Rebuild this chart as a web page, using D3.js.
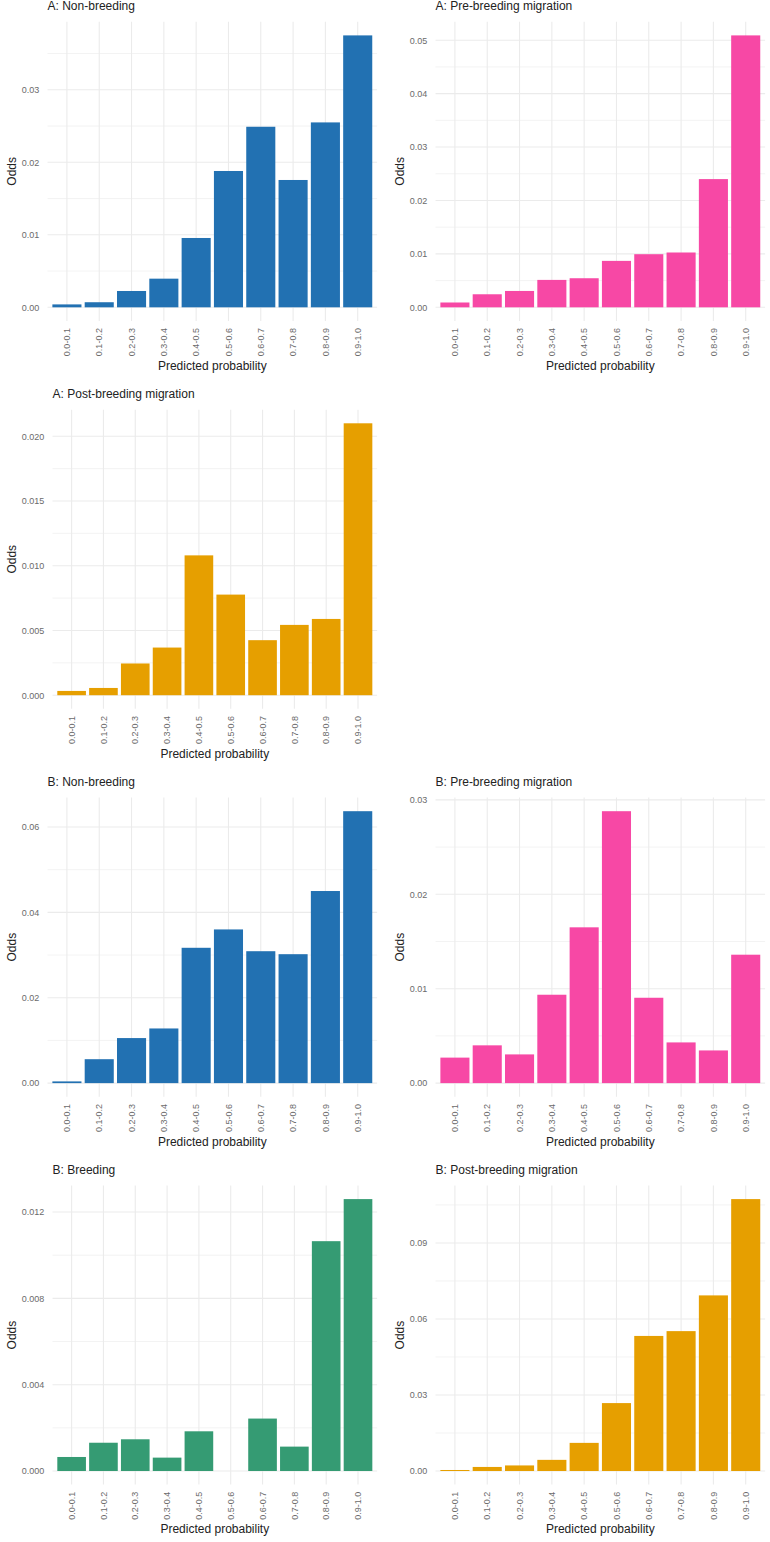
<!DOCTYPE html>
<html>
<head>
<meta charset="utf-8">
<script src="https://cdn.jsdelivr.net/npm/d3@7"></script>
<style>
  body { margin: 0; background: #fff; }
  text { font-family: "Liberation Sans", Arial, sans-serif; }
</style>
</head>
<body>
<script>
// predicted probability bins (x axis)
const categories = ['0.0-0.1', '0.1-0.2', '0.2-0.3', '0.3-0.4', '0.4-0.5',
                    '0.5-0.6', '0.6-0.7', '0.7-0.8', '0.8-0.9', '0.9-1.0']

// odds per bin
const aNonBreeding  = [0.0004, 0.0007, 0.00225, 0.00395, 0.00956, 0.0188, 0.0249, 0.01756, 0.0255, 0.0375]
const aPreBreeding  = [0.0009, 0.00244, 0.00306, 0.00513, 0.00544, 0.00869, 0.00994, 0.01026, 0.024, 0.0509]
const aPostBreeding = [0.00033, 0.00056, 0.00245, 0.00368, 0.0108, 0.00777, 0.00425, 0.00543, 0.00589, 0.021]
const bNonBreeding  = [0.0004, 0.0056, 0.01055, 0.0128, 0.0317, 0.036, 0.0309, 0.0302, 0.045, 0.0637]
const bPreBreeding  = [0.0027, 0.004, 0.00304, 0.00936, 0.0165, 0.0288, 0.00904, 0.00431, 0.00346, 0.0136]
const bBreeding     = [0.00065, 0.00131, 0.00147, 0.00062, 0.00184, 0, 0.00243, 0.00113, 0.01065, 0.0126]
const bPostBreeding = [0.0004, 0.0016, 0.0022, 0.0044, 0.0111, 0.0268, 0.0533, 0.0552, 0.0693, 0.1073]

const panelTitles = ['A: Non-breeding', 'A: Pre-breeding migration', 'A: Post-breeding migration',
                     'B: Non-breeding', 'B: Pre-breeding migration', 'B: Breeding', 'B: Post-breeding migration']
const panelValues = [aNonBreeding, aPreBreeding, aPostBreeding, bNonBreeding, bPreBreeding, bBreeding, bPostBreeding]
// y tick spacing per panel
const tickSteps = [0.01, 0.01, 0.005, 0.02, 0.01, 0.004, 0.03]

const colours = {
    non: '#2271B2',
    pre: '#F748A5',
    post: '#E69F00',
    breed: '#359B73'
}
const panelColours = [colours.non, colours.pre, colours.post, colours.non, colours.pre, colours.breed, colours.post]
const panelCells = [[0, 0], [0, 1], [1, 0], [2, 0], [2, 1], [3, 0], [3, 1]]   // [row, col]

const m = {
    width: 770,
    height: 1542,
    colX: [0, 388],
    rowStep: 387.9,
    plotTop: 21.8,
    plotH: 299.1,
    plotRight: 377.1,
    labelStart: 21.7,
    labelGap: 8.3
}

const svg = d3.select('body').append('svg')
    .attr('width', m.width)
    .attr('height', m.height)

const measure = svg.append('text').attr('font-size', 9).attr('opacity', 0)
function textWidth(s) {
    measure.text(s)
    return measure.node().getComputedTextLength()
}

panelTitles.forEach(function(title, i) {
    const values = panelValues[i]
    const step = tickSteps[i]
    const row = panelCells[i][0], col = panelCells[i][1]
    const colX = m.colX[col]
    const top = m.plotTop + row * m.rowStep
    const bottom = top + m.plotH

    const vmax = d3.max(values)
    const y = d3.scaleLinear()
        .domain([-0.05 * vmax, 1.05 * vmax])
        .range([bottom, top])

    const majors = d3.range(0, 1.05 * vmax + 1e-9, step)
    const minors = d3.range(step / 2, 1.05 * vmax, step)
    const decimals = step < 0.01 ? 3 : 2
    const fmt = d3.format('.' + decimals + 'f')

    const labelW = d3.max(majors, function(d) { return textWidth(fmt(d)) })
    const left = colX + m.labelStart + labelW + m.labelGap
    const right = colX + m.plotRight

    const x = d3.scaleBand()
        .domain(categories)
        .range([left, right])
        .paddingInner(0.1)
        .paddingOuter(0.15)

    const g = svg.append('g')

    // grid
    g.selectAll('.minor')
        .data(minors)
        .enter()
        .append('line')
            .attr('x1', left).attr('x2', right)
            .attr('y1', function(d) { return y(d) })
            .attr('y2', function(d) { return y(d) })
            .attr('stroke', '#EBEBEB')
            .attr('stroke-width', 0.6)

    g.selectAll('.major')
        .data(majors)
        .enter()
        .append('line')
            .attr('x1', left).attr('x2', right)
            .attr('y1', function(d) { return y(d) })
            .attr('y2', function(d) { return y(d) })
            .attr('stroke', '#EBEBEB')
            .attr('stroke-width', 1.1)

    g.selectAll('.vgrid')
        .data(categories)
        .enter()
        .append('line')
            .attr('x1', function(d) { return x(d) + x.bandwidth() / 2 })
            .attr('x2', function(d) { return x(d) + x.bandwidth() / 2 })
            .attr('y1', top).attr('y2', bottom)
            .attr('stroke', '#EBEBEB')
            .attr('stroke-width', 1.1)

    // bars
    g.selectAll('.bar')
        .data(values)
        .enter()
        .append('rect')
            .attr('x', function(d, j) { return x(categories[j]) })
            .attr('width', x.bandwidth())
            .attr('y', function(d) { return y(d) })
            .attr('height', function(d) { return y(0) - y(d) })
            .attr('fill', panelColours[i])

    // y axis
    const yAxis = g.append('g')
        .attr('transform', 'translate(' + (left - m.labelGap) + ',0)')
        .call(d3.axisLeft(y).tickValues(majors).tickFormat(fmt).tickSize(0).tickPadding(0))
    yAxis.select('.domain').remove()
    yAxis.selectAll('text')
        .attr('font-size', 9)
        .attr('fill', '#6b6b6b')
        .attr('font-family', '"Liberation Sans", Arial, sans-serif')

    // x axis
    const xAxis = g.append('g')
        .attr('transform', 'translate(0,' + (bottom + 7.2) + ')')
        .call(d3.axisBottom(x).tickSize(0).tickPadding(0))
    xAxis.select('.domain').remove()
    xAxis.selectAll('text')
        .attr('font-size', 9)
        .attr('fill', '#6b6b6b')
        .attr('font-family', '"Liberation Sans", Arial, sans-serif')
        .attr('transform', 'rotate(-90)')
        .attr('text-anchor', 'end')
        .attr('x', 0)
        .attr('y', 0)
        .attr('dy', '0.35em')

    // titles
    g.append('text')
        .attr('x', left)
        .attr('y', top - 11.5)
        .attr('font-size', 12)
        .attr('fill', '#222')
        .text(title)

    g.append('text')
        .attr('x', (left + right) / 2)
        .attr('y', bottom + 48.8)
        .attr('text-anchor', 'middle')
        .attr('font-size', 12)
        .attr('fill', '#222')
        .text('Predicted probability')

    g.append('text')
        .attr('transform', 'translate(' + (colX + 15.5) + ',' + ((top + bottom) / 2) + ') rotate(-90)')
        .attr('text-anchor', 'middle')
        .attr('font-size', 12)
        .attr('fill', '#222')
        .text('Odds')
})

measure.remove()
</script>
</body>
</html>
